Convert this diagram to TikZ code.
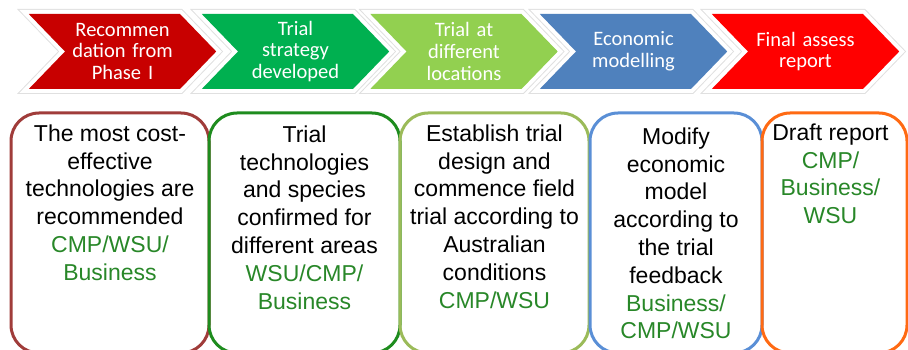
\documentclass[tikz,border=0pt]{standalone}
\usepackage{fontspec}
\setmainfont{Liberation Sans}
\newfontfamily\chevfont{Carlito}
\usetikzlibrary{positioning,shapes.symbols}

\definecolor{phasered}{RGB}{200,0,0}
\definecolor{stratgreen}{RGB}{0,176,80}
\definecolor{sitegreen}{RGB}{146,208,80}
\definecolor{econblue}{RGB}{79,129,189}
\definecolor{reportred}{RGB}{255,0,0}
\definecolor{border1}{RGB}{160,60,58}
\definecolor{border2}{RGB}{30,140,30}
\definecolor{border3}{RGB}{155,187,89}
\definecolor{border4}{RGB}{90,143,214}
\definecolor{border5}{RGB}{255,106,19}
\definecolor{whogreen}{RGB}{40,135,40}

\newcommand{\whotext}[1]{\textcolor{whogreen}{#1}}

\begin{document}
\begin{tikzpicture}[x=1pt,y=-1pt,
  chev/.style={signal, signal from=west, signal to=east, signal pointer angle=92,
    minimum height=75pt, text width=115pt, inner xsep=0pt, inner ysep=0pt,
    align=center, text=white, font=\chevfont\fontsize{20.5}{21.7}\selectfont,
    preaction={draw=black!12, line width=10pt},
    preaction={draw=white, line width=8pt}},
  panel/.style={draw, rounded corners=28pt, line width=3pt,
    minimum height=240pt, inner sep=0pt},
  paneltext/.style={align=center, inner sep=0pt,
    font=\fontsize{23}{27.8}\selectfont}]

\path[use as bounding box, clip] (0,0) rectangle (908,350);

% process steps
\node[chev, fill=phasered] (C1) at (122.5,51.5)
{Recommen\\dation from\\Phase I};%

\node[chev, fill=stratgreen] (C2) at (295.5,51.5)
{Trial\\strategy\\developed};%

\node[chev, fill=sitegreen] (C3) at (464,51.5)
{Trial at\\different\\locations};%

\node[chev, fill=econblue] (C4) at (633.5,51.5)
{Economic\\modelling};%

\node[chev, fill=reportred] (C5) at (805.5,51.5)
{Final assess\\report};%

% panels below
\node[panel, draw=border1, minimum width=198pt] (B1) at (110,233) {};%
\node[panel, draw=border2, minimum width=191pt] (B2) at (304.5,233) {};%
\node[panel, draw=border3, minimum width=189pt] (B3) at (494.5,233) {};%
\node[panel, draw=border4, minimum width=172pt] (B4) at (676,233) {};%
\node[panel, draw=border5, minimum width=145pt] (B5) at (834.5,233) {};%

\node[paneltext, below=13pt of B1.north] (T1)
{The most cost-\\effective\\technologies are\\recommended\\%
\whotext{CMP/WSU/}\\\whotext{Business}};%

\node[paneltext, below=14pt of B2.north] (T2)
{Trial\\technologies\\and species\\confirmed for\\different areas\\%
\whotext{WSU/CMP/}\\\whotext{Business}};%

\node[paneltext, below=13pt of B3.north] (T3)
{Establish trial\\design and\\commence field\\trial according to\\Australian\\conditions\\%
\whotext{CMP/WSU}};%

\node[paneltext, below=16pt of B4.north] (T4)
{Modify\\economic\\model\\according to\\the trial\\feedback\\%
\whotext{Business/}\\\whotext{CMP/WSU}};%

\node[paneltext, below=12pt of B5.north, xshift=-4pt] (T5)
{Draft report\\\whotext{CMP/}\\\whotext{Business/}\\\whotext{WSU}};%

\end{tikzpicture}
\end{document}
